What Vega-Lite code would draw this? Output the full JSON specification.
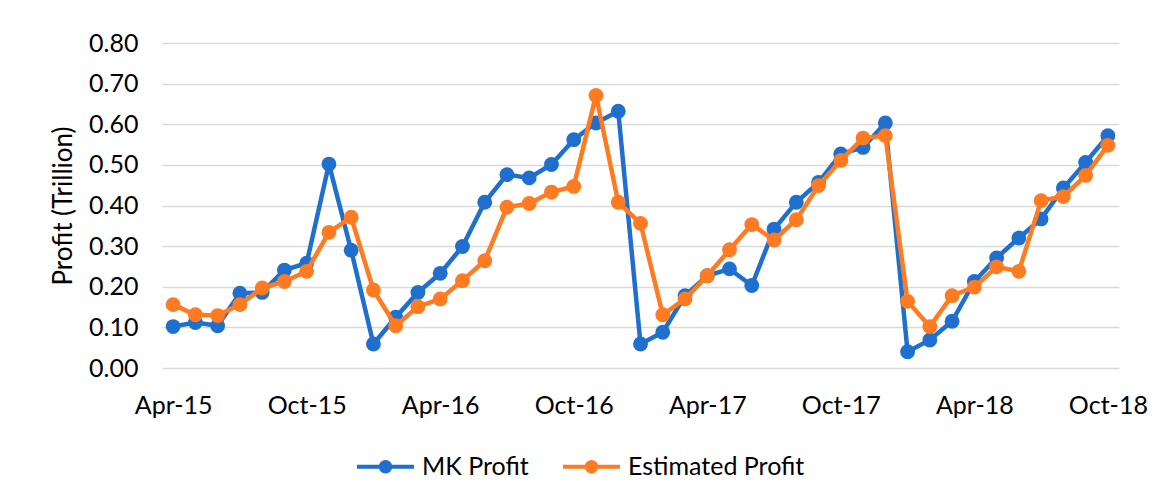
{
  "$schema": "https://vega.github.io/schema/vega-lite/v6.json",
  "autosize": {"type": "none"},
  "width": 957,
  "height": 325,
  "padding": {"left": 162, "top": 43, "right": 37, "bottom": 134},
  "background": "white",
  "config": {
    "view": {"stroke": null},
    "font": "Lato",
    "axis": {"labelFont": "Lato", "titleFont": "Lato", "labelColor": "#000000", "titleColor": "#000000"}
  },
  "data": {"values": [
    {"month":"Apr-15","series":"MK Profit","value":0.102},
    {"month":"May-15","series":"MK Profit","value":0.112},
    {"month":"Jun-15","series":"MK Profit","value":0.104},
    {"month":"Jul-15","series":"MK Profit","value":0.184},
    {"month":"Aug-15","series":"MK Profit","value":0.186},
    {"month":"Sep-15","series":"MK Profit","value":0.241},
    {"month":"Oct-15","series":"MK Profit","value":0.258},
    {"month":"Nov-15","series":"MK Profit","value":0.502},
    {"month":"Dec-15","series":"MK Profit","value":0.290},
    {"month":"Jan-16","series":"MK Profit","value":0.059},
    {"month":"Feb-16","series":"MK Profit","value":0.125},
    {"month":"Mar-16","series":"MK Profit","value":0.186},
    {"month":"Apr-16","series":"MK Profit","value":0.233},
    {"month":"May-16","series":"MK Profit","value":0.299},
    {"month":"Jun-16","series":"MK Profit","value":0.408},
    {"month":"Jul-16","series":"MK Profit","value":0.476},
    {"month":"Aug-16","series":"MK Profit","value":0.468},
    {"month":"Sep-16","series":"MK Profit","value":0.501},
    {"month":"Oct-16","series":"MK Profit","value":0.562},
    {"month":"Nov-16","series":"MK Profit","value":0.603},
    {"month":"Dec-16","series":"MK Profit","value":0.632},
    {"month":"Jan-17","series":"MK Profit","value":0.059},
    {"month":"Feb-17","series":"MK Profit","value":0.088},
    {"month":"Mar-17","series":"MK Profit","value":0.178},
    {"month":"Apr-17","series":"MK Profit","value":0.227},
    {"month":"May-17","series":"MK Profit","value":0.244},
    {"month":"Jun-17","series":"MK Profit","value":0.203},
    {"month":"Jul-17","series":"MK Profit","value":0.342},
    {"month":"Aug-17","series":"MK Profit","value":0.408},
    {"month":"Sep-17","series":"MK Profit","value":0.457},
    {"month":"Oct-17","series":"MK Profit","value":0.527},
    {"month":"Nov-17","series":"MK Profit","value":0.543},
    {"month":"Dec-17","series":"MK Profit","value":0.603},
    {"month":"Jan-18","series":"MK Profit","value":0.040},
    {"month":"Feb-18","series":"MK Profit","value":0.069},
    {"month":"Mar-18","series":"MK Profit","value":0.115},
    {"month":"Apr-18","series":"MK Profit","value":0.213},
    {"month":"May-18","series":"MK Profit","value":0.271},
    {"month":"Jun-18","series":"MK Profit","value":0.320},
    {"month":"Jul-18","series":"MK Profit","value":0.367},
    {"month":"Aug-18","series":"MK Profit","value":0.443},
    {"month":"Sep-18","series":"MK Profit","value":0.506},
    {"month":"Oct-18","series":"MK Profit","value":0.572},
    {"month":"Apr-15","series":"Estimated Profit","value":0.156},
    {"month":"May-15","series":"Estimated Profit","value":0.131},
    {"month":"Jun-15","series":"Estimated Profit","value":0.129},
    {"month":"Jul-15","series":"Estimated Profit","value":0.156},
    {"month":"Aug-15","series":"Estimated Profit","value":0.197},
    {"month":"Sep-15","series":"Estimated Profit","value":0.213},
    {"month":"Oct-15","series":"Estimated Profit","value":0.238},
    {"month":"Nov-15","series":"Estimated Profit","value":0.334},
    {"month":"Dec-15","series":"Estimated Profit","value":0.371},
    {"month":"Jan-16","series":"Estimated Profit","value":0.192},
    {"month":"Feb-16","series":"Estimated Profit","value":0.104},
    {"month":"Mar-16","series":"Estimated Profit","value":0.151},
    {"month":"Apr-16","series":"Estimated Profit","value":0.170},
    {"month":"May-16","series":"Estimated Profit","value":0.215},
    {"month":"Jun-16","series":"Estimated Profit","value":0.264},
    {"month":"Jul-16","series":"Estimated Profit","value":0.396},
    {"month":"Aug-16","series":"Estimated Profit","value":0.405},
    {"month":"Sep-16","series":"Estimated Profit","value":0.433},
    {"month":"Oct-16","series":"Estimated Profit","value":0.447},
    {"month":"Nov-16","series":"Estimated Profit","value":0.671},
    {"month":"Dec-16","series":"Estimated Profit","value":0.408},
    {"month":"Jan-17","series":"Estimated Profit","value":0.356},
    {"month":"Feb-17","series":"Estimated Profit","value":0.131},
    {"month":"Mar-17","series":"Estimated Profit","value":0.170},
    {"month":"Apr-17","series":"Estimated Profit","value":0.227},
    {"month":"May-17","series":"Estimated Profit","value":0.291},
    {"month":"Jun-17","series":"Estimated Profit","value":0.353},
    {"month":"Jul-17","series":"Estimated Profit","value":0.315},
    {"month":"Aug-17","series":"Estimated Profit","value":0.365},
    {"month":"Sep-17","series":"Estimated Profit","value":0.449},
    {"month":"Oct-17","series":"Estimated Profit","value":0.511},
    {"month":"Nov-17","series":"Estimated Profit","value":0.566},
    {"month":"Dec-17","series":"Estimated Profit","value":0.572},
    {"month":"Jan-18","series":"Estimated Profit","value":0.164},
    {"month":"Feb-18","series":"Estimated Profit","value":0.102},
    {"month":"Mar-18","series":"Estimated Profit","value":0.178},
    {"month":"Apr-18","series":"Estimated Profit","value":0.199},
    {"month":"May-18","series":"Estimated Profit","value":0.249},
    {"month":"Jun-18","series":"Estimated Profit","value":0.238},
    {"month":"Jul-18","series":"Estimated Profit","value":0.412},
    {"month":"Aug-18","series":"Estimated Profit","value":0.422},
    {"month":"Sep-18","series":"Estimated Profit","value":0.474},
    {"month":"Oct-18","series":"Estimated Profit","value":0.548}
  ]},
  "encoding": {
    "x": {
      "field": "month", "type": "ordinal",
      "scale": {"type": "point", "padding": 0.5, "domain": ["Apr-15","May-15","Jun-15","Jul-15","Aug-15","Sep-15","Oct-15","Nov-15","Dec-15","Jan-16","Feb-16","Mar-16","Apr-16","May-16","Jun-16","Jul-16","Aug-16","Sep-16","Oct-16","Nov-16","Dec-16","Jan-17","Feb-17","Mar-17","Apr-17","May-17","Jun-17","Jul-17","Aug-17","Sep-17","Oct-17","Nov-17","Dec-17","Jan-18","Feb-18","Mar-18","Apr-18","May-18","Jun-18","Jul-18","Aug-18","Sep-18","Oct-18"]},
      "axis": {
        "title": null,
        "values": ["Apr-15","Oct-15","Apr-16","Oct-16","Apr-17","Oct-17","Apr-18","Oct-18"],
        "labelAngle": 0, "labelFontSize": 25, "labelPadding": 25,
        "ticks": false, "domain": false, "grid": false
      }
    },
    "y": {
      "field": "value", "type": "quantitative",
      "scale": {"domain": [0, 0.8], "nice": false},
      "axis": {
        "title": "Profit (Trillion)", "titleFontSize": 26, "titleFontWeight": "normal", "titlePadding": 12,
        "values": [0, 0.1, 0.2, 0.3, 0.4, 0.5, 0.6, 0.7, 0.8],
        "format": ".2f", "labelFontSize": 25, "labelPadding": 24,
        "ticks": false, "domain": false,
        "grid": true, "gridColor": "#d9d9d9", "gridWidth": 1.5
      }
    },
    "color": {
      "field": "series", "type": "nominal",
      "scale": {"domain": ["MK Profit", "Estimated Profit"], "range": ["#1F6FCF", "#FF7B22"]},
      "legend": {
        "title": null, "orient": "none", "direction": "horizontal",
        "legendX": 193, "legendY": 393,
        "labelFontSize": 25, "labelColor": "#000000", "labelFont": "Lato", "labelLimit": 400,
        "symbolType": "M-1,0H1M-0.17,0a0.17,0.17 0 1,0 0.34,0a0.17,0.17 0 1,0 -0.34,0",
        "symbolSize": 3249, "symbolStrokeWidth": 4, "columnPadding": 26, "labelOffset": 6
      }
    }
  },
  "layer": [
    {
      "transform": [{"filter": "datum.series === 'MK Profit'"}],
      "mark": {"type": "line", "strokeWidth": 4.5, "point": {"filled": true, "size": 220}}
    },
    {
      "transform": [{"filter": "datum.series === 'Estimated Profit'"}],
      "mark": {"type": "line", "strokeWidth": 4.5, "point": {"filled": true, "size": 220}}
    }
  ]
}
